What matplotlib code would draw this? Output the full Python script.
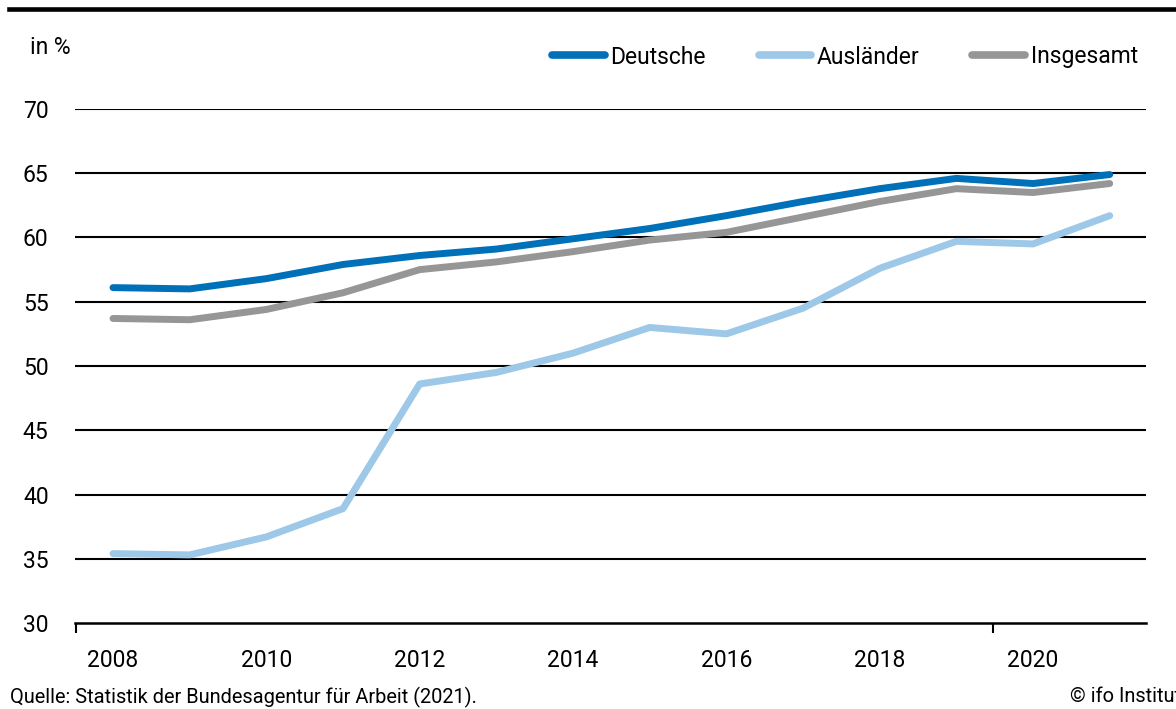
import matplotlib
matplotlib.use("Agg")
import matplotlib.pyplot as plt
from matplotlib.lines import Line2D

years = list(range(2008, 2022))
deutsche = [56.1, 56.0, 56.8, 57.9, 58.6, 59.1, 59.9, 60.7, 61.7, 62.8, 63.8, 64.6, 64.2, 64.9]
auslaender = [35.4, 35.3, 36.7, 38.9, 48.6, 49.5, 51.0, 53.0, 52.5, 54.5, 57.6, 59.7, 59.5, 61.7]
insgesamt = [53.7, 53.6, 54.4, 55.7, 57.5, 58.1, 58.9, 59.8, 60.4, 61.6, 62.8, 63.8, 63.5, 64.2]
xtick_years = [2008, 2010, 2012, 2014, 2016, 2018, 2020]
yticks = [30, 35, 40, 45, 50, 55, 60, 65, 70]

plt.rcParams['font.family'] = ['Roboto', 'DejaVu Sans']
FS = 16.5

fig = plt.figure(figsize=(11.76, 7.09), dpi=100)
ax = fig.add_axes([75/1176, 1-623/709, (1146-75)/1176, (623-109)/709])

lw = 5.0
ax.plot(years, deutsche, color='#0070b8', lw=lw, solid_capstyle='round', solid_joinstyle='round', label='Deutsche', zorder=3)
ax.plot(years, auslaender, color='#9dc8e7', lw=lw, solid_capstyle='round', solid_joinstyle='round', label='Ausländer', zorder=3)
ax.plot(years, insgesamt, color='#969696', lw=lw, solid_capstyle='round', solid_joinstyle='round', label='Insgesamt', zorder=3)

px_per_year = 76.67
ax.set_xlim(2008 - 38/px_per_year, 2008 + (1146-113)/px_per_year)
ax.set_ylim(30, 70)

ax.set_yticks(yticks)
ax.set_yticklabels([str(v) for v in yticks], fontsize=FS)
ax.set_xticks(xtick_years)
ax.set_xticklabels([str(v) for v in xtick_years], fontsize=FS)
ax.tick_params(axis='y', length=0, pad=19)
ax.tick_params(axis='x', length=0, pad=19)
ax.set_xticks([2008 - 38/px_per_year + 0.01, 2008 + (993-113)/px_per_year], minor=True)
ax.tick_params(axis='x', which='minor', length=7, width=1.5, direction='out', color='black')

for v in yticks[1:]:
    ax.axhline(v, color='black', lw=1.5, zorder=1)

for s in ['left', 'right', 'top']:
    ax.spines[s].set_visible(False)
ax.spines['bottom'].set_linewidth(1.8)
ax.spines['bottom'].set_color('black')

leg = ax.legend(loc='center right', bbox_to_anchor=(1138/1176, 1-57/709), bbox_transform=fig.transFigure,
                ncol=3, frameon=False, fontsize=FS, handlelength=2.3, handletextpad=0.25,
                columnspacing=2.3, borderpad=0, borderaxespad=0)
for h in leg.get_lines():
    h.set_linewidth(5.5)
    h.set_solid_capstyle('round')

fig.add_artist(Line2D([9/1176, 1], [1-9/709, 1-9/709], color='black', lw=3.3, transform=fig.transFigure))
fig.text(30/1176, 1-47/709, 'in %', fontsize=FS, ha='left', va='center')
fig.text(10/1176, 1-697/709, 'Quelle: Statistik der Bundesagentur für Arbeit (2021).', fontsize=14.4, ha='left', va='center')
fig.text(1070/1176, 1-697/709, '© ifo Institut', fontsize=14.4, ha='left', va='center')

fig.savefig('out.png', dpi=100)
